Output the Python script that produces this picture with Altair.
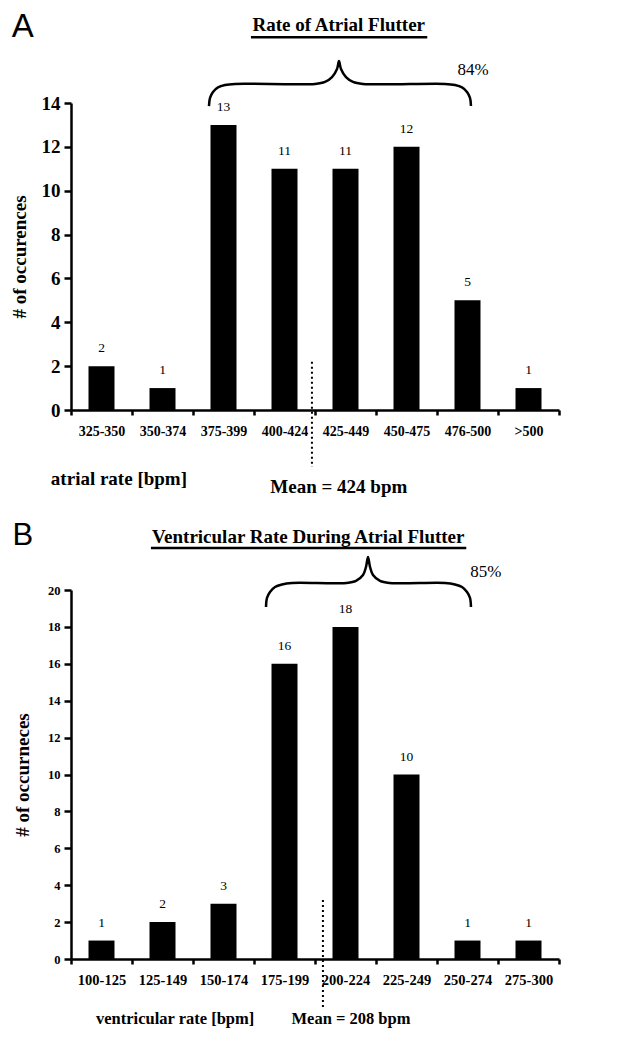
import altair as alt
import pandas as pd

SERIF = "Liberation Serif"
SANS = "Liberation Sans"

# ---------------- Panel A data ----------------
a_cats = ["325-350", "350-374", "375-399", "400-424", "425-449", "450-475", "476-500", ">500"]
a_vals = [2, 1, 13, 11, 11, 12, 5, 1]
a_title = "Rate of Atrial Flutter"
a_ytitle = "# of occurences"
a_xtitle = "atrial rate [bpm]"
a_mean_text = "Mean = 424 bpm"
a_pct = "84%"
# brace outline (x: band index 0..8, y: axis units)
a_brace_x = [2.262, 2.279, 2.328, 2.410, 2.525, 2.689, 4.0, 4.164, 4.279, 4.361, 4.393,
             4.426, 4.508, 4.623, 4.787, 6.131, 6.295, 6.410, 6.492, 6.541, 6.557]
a_brace_y = [13.86, 14.23, 14.50, 14.71, 14.82, 14.87, 14.87, 14.96, 15.18, 15.55, 15.91,
             15.55, 15.18, 14.96, 14.87, 14.87, 14.82, 14.71, 14.50, 14.23, 13.86]
a_mean_x = 3.95
a_mean_y = [2.2, -2.6]

# ---------------- Panel B data ----------------
b_cats = ["100-125", "125-149", "150-174", "175-199", "200-224", "225-249", "250-274", "275-300"]
b_vals = [1, 2, 3, 16, 18, 10, 1, 1]
b_title = "Ventricular Rate During Atrial Flutter"
b_ytitle = "# of occurneces"
b_xtitle = "ventricular rate [bpm]"
b_mean_text = "Mean = 208 bpm"
b_pct = "85%"
b_brace_x = [3.197, 3.213, 3.262, 3.344, 3.459, 3.623, 4.508, 4.672, 4.787, 4.836, 4.869,
             4.902, 4.951, 5.066, 5.230, 6.131, 6.295, 6.410, 6.492, 6.541, 6.557]
b_brace_y = [19.08, 19.57, 19.89, 20.16, 20.30, 20.38, 20.38, 20.49, 20.81, 21.25, 21.79,
             21.25, 20.81, 20.49, 20.38, 20.38, 20.30, 20.16, 19.89, 19.57, 19.08]
b_mean_x = 4.13
b_mean_y = [3.2, -2.76]


def build(cats, vals, ymax, height, ytitle, ylab_size, ytitle_pad, cat_size,
          title, title_xy, underline_x, underline_y,
          letter, letter_xy, letter_size, pct, pct_xy, brace_x, brace_y,
          mean_x, mean_y, xtitle, xtitle_xy, mean_text, mean_xy, foot_size):
    yscale = alt.Scale(domain=[0, ymax], nice=False, zero=True)
    yaxis = alt.Axis(values=list(range(0, ymax + 1, 2)), title=ytitle,
                     titleFont=SERIF, titleFontSize=19, titleFontWeight="bold",
                     titleColor="black", titlePadding=ytitle_pad,
                     labelFont=SERIF, labelFontSize=ylab_size, labelFontWeight="bold",
                     labelColor="black", labelPadding=4, tickSize=7, tickWidth=2.5,
                     tickColor="black", domainWidth=2.5, domainColor="black", grid=False)

    def Y():
        return alt.Y("y:Q", scale=yscale, axis=yaxis)

    def XQ():
        return alt.X("x:Q", scale=alt.Scale(domain=[0, 8], nice=False, zero=False), axis=None)

    df = pd.DataFrame({"cat": cats, "y": vals})
    band = alt.Scale(paddingInner=0, paddingOuter=0)
    xb = alt.X("cat:N", sort=cats, scale=band,
               axis=alt.Axis(title=None, labelFont=SERIF, labelFontSize=cat_size,
                             labelFontWeight="bold", labelColor="black", labelAngle=0,
                             labelPadding=9, tickBand="extent", tickSize=5, tickWidth=2.5,
                             tickColor="black", domainWidth=2.5, domainColor="black",
                             grid=False))
    bars = alt.Chart(df).mark_bar(color="black", size=26).encode(x=xb, y=Y())
    labels = alt.Chart(df).mark_text(font=SERIF, fontSize=13.5, dy=-18, color="black").encode(
        x=alt.X("cat:N", sort=cats, scale=band, axis=None), y=Y(), text="y:Q")

    mean_df = pd.DataFrame({"x": [mean_x], "y": [mean_y[0]], "y2": [mean_y[1]]})
    mean_rule = alt.Chart(mean_df).mark_rule(color="black", strokeWidth=2, strokeDash=[2, 3]).encode(
        x=XQ(), y=Y(), y2="y2:Q")

    brace_df = pd.DataFrame({"x": brace_x, "y": brace_y, "i": list(range(len(brace_x)))})
    brace = alt.Chart(brace_df).mark_line(color="black", strokeWidth=2.5,
                                          interpolate="catmull-rom").encode(
        x=XQ(), y=Y(), order="i:Q")

    ul_df = pd.DataFrame({"x": [underline_x[0]], "x2": [underline_x[1]], "y": [underline_y]})
    underline = alt.Chart(ul_df).mark_rule(color="black", strokeWidth=2.5).encode(
        x=XQ(), x2="x2:Q", y=Y())

    def txt(t, xy, **kw):
        d = pd.DataFrame({"x": [xy[0]], "y": [xy[1]], "t": [t]})
        return alt.Chart(d).mark_text(color="black", **kw).encode(x=XQ(), y=Y(), text="t:N")

    t_title = txt(title, title_xy, font=SERIF, fontSize=19, fontWeight="bold")
    t_letter = txt(letter, letter_xy, font=SANS, fontSize=letter_size)
    t_pct = txt(pct, pct_xy, font=SERIF, fontSize=17)
    t_xtitle = txt(xtitle, xtitle_xy, font=SERIF, fontSize=foot_size, fontWeight="bold", align="left")
    t_mean = txt(mean_text, mean_xy, font=SERIF, fontSize=foot_size, fontWeight="bold")

    return alt.layer(bars, labels, mean_rule, brace, underline,
                     t_title, t_letter, t_pct, t_xtitle, t_mean).resolve_scale(
        x="independent").properties(width=488, height=height)


panel_a = build(a_cats, a_vals, 14, 307, a_ytitle, 19, 12, 14,
                a_title, (4.39, 17.56), (2.95, 5.84), 17.0,
                "A", (-0.79, 17.45), 33, a_pct, (6.59, 15.5), a_brace_x, a_brace_y,
                a_mean_x, a_mean_y, a_xtitle, (-0.33, -3.15), a_mean_text, (4.39, -3.51), 19)

panel_b = build(b_cats, b_vals, 20, 369, b_ytitle, 12.5, 15, 14.5,
                b_title, (3.89, 22.87), (1.31, 6.48), 22.28,
                "B", (-0.79, 22.93), 31, b_pct, (6.80, 20.98), b_brace_x, b_brace_y,
                b_mean_x, b_mean_y, b_xtitle, (0.41, -3.25), b_mean_text, (4.59, -3.25), 16.5)

chart = alt.vconcat(panel_a, panel_b, spacing=22).properties(
    padding={"left": 2, "top": 3, "right": 5, "bottom": 0}
).configure_view(stroke=None)

chart.save("out.html", embed_options={"renderer": "svg", "actions": False})
